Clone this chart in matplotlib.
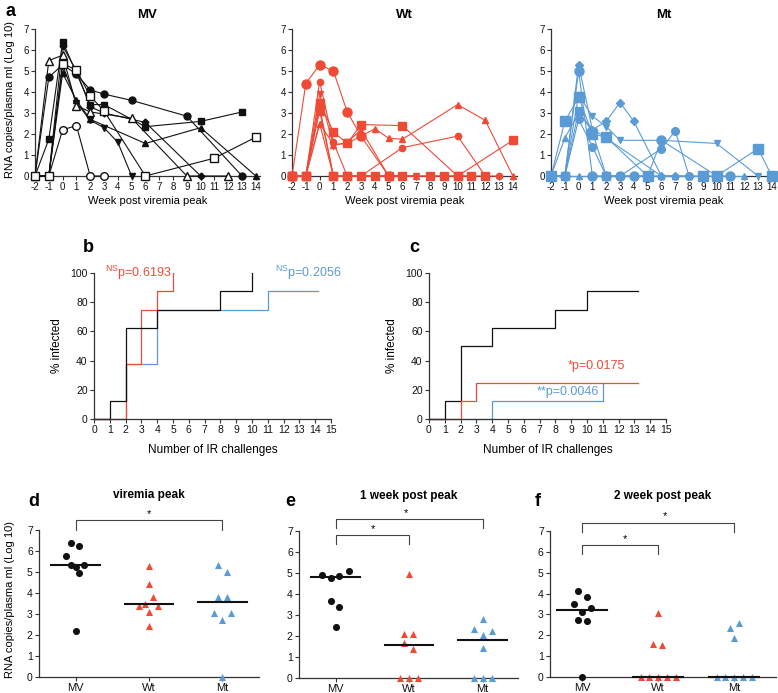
import matplotlib
matplotlib.use('Agg')
import matplotlib.pyplot as plt
import numpy as np

plt.rcParams['font.family'] = ['Liberation Sans', 'DejaVu Sans']
plt.rcParams['mathtext.fontset'] = 'custom'
plt.rcParams['mathtext.rm'] = 'Liberation Sans'
plt.rcParams['axes.unicode_minus'] = False

RED = '#EE4B36'
BLUE = '#5B9BD5'
BLACK = '#111111'
AXCOL = '#333333'

# ---- panel a: log10 viral load per animal, by week relative to peak
mv_weeks = [
    [-2, -1, 0, 1, 2, 3, 5, 9, 13],
    [-2, -1, 0, 1, 2, 3, 6, 10, 13],
    [-2, -1, 0, 1, 2, 6, 10, 14],
    [-2, -1, 0, 1, 2, 3, 4, 5],
    [-2, -1, 0, 1, 2, 3, 6, 10],
    [-2, -1, 0, 1, 2, 5, 9, 12],
    [-2, -1, 0, 1, 2, 3],
    [-2, -1, 0, 1, 2, 3, 6, 11, 14],
]
mv_loads = [
    [0, 4.7, 5.3, 4.85, 4.1, 3.9, 3.6, 2.85, 0],
    [0, 1.75, 6.4, 4.9, 3.4, 3.4, 2.35, 2.6, 3.05],
    [0, 0, 4.9, 3.6, 2.7, 1.55, 2.3, 0],
    [0, 0, 5.3, 3.5, 2.65, 2.3, 1.6, 0],
    [0, 0, 6.2, 5.0, 3.3, 3.0, 2.55, 0],
    [0, 5.5, 5.75, 3.35, 3.05, 2.75, 0, 0],
    [0, 0, 2.2, 2.4, 0, 0],
    [0, 0, 5.35, 5.05, 3.8, 3.1, 0, 0.85, 1.85],
]
wt_weeks = [
    [-2, -1, 0, 1, 2, 3, 5],
    [-2, -1, 0, 1, 2, 3, 6, 10, 12, 13],
    [-2, -1, 0, 1, 2, 3, 4, 5, 6, 10, 12, 14],
    [-2, -1, 0, 1, 2, 3, 5, 7],
    [-2, -1, 0, 1, 2, 3, 6, 10, 11],
    [-2, -1, 0, 1, 2, 3, 4, 5, 6, 8, 9, 10, 14],
    [-2, -1, 0, 1, 2, 12],
    [-2, -1, 0, 1, 7],
]
wt_loads = [
    [0, 4.4, 5.3, 5.0, 3.05, 1.9, 0],
    [0, 0, 4.5, 1.6, 0, 0, 1.35, 1.9, 0, 0],
    [0, 0, 2.5, 1.5, 1.55, 1.9, 2.25, 1.8, 1.75, 3.4, 2.65, 0],
    [0, 0, 3.9, 1.45, 1.6, 2.2, 0, 0],
    [0, 0, 3.5, 2.1, 1.55, 2.45, 2.4, 0, 0],
    [0, 0, 3.3, 0, 0, 0, 0, 0, 0, 0, 0, 0, 1.7],
    [0, 0, 3.1, 0, 0, 0],
    [0, 0, 2.5, 0, 0],
]
mt_weeks = [
    [-2, -1, 0, 1, 2, 3, 4, 6, 7],
    [-2, -1, 0, 1, 2, 3, 4, 5, 6, 10, 11],
    [-2, -1, 0, 1, 2, 5, 9, 10, 13, 14],
    [-2, -1, 0, 1, 2, 3, 6, 10, 13],
    [-2, -1, 0, 1, 2, 3, 6, 7, 8],
    [-2, -1, 0, 1, 6, 7, 8],
    [-2, -1, 0, 1, 2, 5],
    [-2, -1, 0, 1, 2, 3, 4, 5, 6, 7, 8, 12],
]
mt_loads = [
    [0, 0, 5.3, 2.2, 2.6, 3.5, 2.6, 0, 0],
    [0, 0, 5.0, 0, 0, 0, 0, 0, 1.7, 0, 0],
    [0, 2.6, 3.75, 2.0, 1.85, 0, 0, 0, 1.3, 0],
    [0, 0, 3.85, 2.85, 2.35, 1.7, 1.7, 1.55, 0],
    [0, 0, 2.7, 1.4, 0, 0, 1.3, 2.15, 0],
    [0, 1.8, 3.0, 2.25, 0, 0, 0],
    [0, 0, 3.1, 2.1, 0, 0],
    [0, 0, 0, 0, 0, 0, 0, 0, 0, 0, 0, 0],
]

# ---- panels b, c: cumulative % infected vs number of challenges
b_mv_x, b_mv_y = [0, 1, 2, 4, 8, 10], [0, 12.5, 62.5, 75, 87.5, 100]
b_wt_x, b_wt_y = [0, 2, 3, 4, 5], [0, 37.5, 75, 87.5, 100]
b_mt_x, b_mt_y = [0, 2, 4, 11, 14.2], [0, 37.5, 75, 87.5, 87.5]
c_mv_x, c_mv_y = [0, 1, 2, 4, 8, 10, 13.2], [0, 12.5, 50, 62.5, 75, 87.5, 87.5]
c_wt_x, c_wt_y = [0, 2, 3, 13.2], [0, 12.5, 25, 25]
c_mt_x, c_mt_y = [0, 4, 11], [0, 12.5, 25]

# ---- panels d, e, f: individual loads, median bars
groups = ['MV', 'Wt', 'Mt']
d_mv = [6.4, 6.25, 5.75, 5.35, 5.25, 5.35, 4.95, 2.2]
d_wt = [5.3, 4.45, 3.8, 3.5, 3.4, 3.4, 3.1, 2.45]
d_mt = [5.35, 5.0, 3.8, 3.8, 3.05, 3.05, 2.7, 0]
d_med = [5.33, 3.5, 3.57]
e_mv = [4.9, 4.78, 4.86, 5.1, 3.67, 3.4, 2.42]
e_wt = [4.97, 2.1, 2.1, 1.67, 1.4, 0, 0, 0]
e_mt = [2.83, 2.34, 2.26, 2.03, 1.45, 0, 0, 0]
e_med = [4.8, 1.56, 1.81]
f_mv = [4.1, 3.83, 3.5, 3.33, 3.1, 2.72, 2.67, 0]
f_wt = [3.05, 1.6, 1.52, 0, 0, 0, 0, 0]
f_mt = [2.59, 2.33, 1.85, 0, 0, 0, 0, 0]
f_med = [3.23, 0, 0]

# horizontal spread of the dots (units of category spacing)
d_jit = [[-0.07, 0.05, -0.13, -0.07, 0, 0.12, 0.05, 0],
         [0, 0, 0.05, -0.06, -0.13, 0.12, 0, 0],
         [-0.06, 0.07, -0.06, 0.07, -0.12, 0.12, 0, 0]]
e_jit = [[-0.19, -0.07, 0.05, 0.18, -0.07, 0.05, 0],
         [0, -0.07, 0.05, -0.07, 0.05, -0.13, 0, 0.12],
         [0, -0.12, 0.12, 0, 0, -0.12, 0, 0.12]]
f_jit = [[-0.05, 0.06, -0.11, 0.12, 0, -0.05, 0.06, 0],
         [0, -0.07, 0.05, -0.23, -0.12, 0, 0.12, 0.23],
         [0.06, -0.06, 0, -0.23, -0.12, 0, 0.12, 0.23]]

W, H = 778, 693


def rect(l, t, r, b):
    return [l / W, 1 - b / H, (r - l) / W, (b - t) / H]


def style(ax, lab=7):
    for s in ['top', 'right']:
        ax.spines[s].set_visible(False)
    for s in ['left', 'bottom']:
        ax.spines[s].set_color(AXCOL)
        ax.spines[s].set_linewidth(0.9)
    ax.tick_params(direction='out', length=3, width=0.8, colors=AXCOL,
                   labelcolor=BLACK, labelsize=lab, pad=1.5)


fig = plt.figure(figsize=(W / 100, H / 100), dpi=100)

# ================= panel a
a_sets = [
    ('MV', mv_weeks, mv_loads, BLACK, ['o', 's', '^', 'v', 'D', '^', 'o', 's'],
     [True, True, True, True, True, False, False, False], [5, 5, 4.5, 4.5, 3.5, 5.5, 5.5, 6], 35),
    ('Wt', wt_weeks, wt_loads, RED, ['o', 'o', '^', 'v', 's', 's', 's', '^'],
     [True] * 8, [6.5, 4.5, 4.5, 4.5, 5.5, 5.5, 5.5, 4.5], 292),
    ('Mt', mt_weeks, mt_loads, BLUE, ['D', 'o', 's', 'v', 'o', '^', 's', '^'],
     [True] * 8, [4, 6.5, 6.5, 4.5, 5.5, 4.5, 6, 4.5], 551),
]
for name, wks, lds, col, mks, fills, sizes, left in a_sets:
    ax = fig.add_axes(rect(left, 29, left + 225, 176))
    for i in range(len(wks)):
        ax.plot(wks[i], lds[i], color=col, lw=0.8, marker=mks[i], ms=sizes[i],
                mfc=col if fills[i] else 'white', mec=col, mew=1.0, clip_on=False, zorder=3)
    ax.set_xlim(-2, 14.3)
    ax.set_ylim(0, 7)
    ax.set_xticks(range(-2, 15))
    ax.set_yticks(range(0, 8))
    style(ax, 7)
    ax.set_title(name, fontsize=9.5, fontweight='bold', pad=8)
    ax.set_xlabel('Week post viremia peak', fontsize=8, labelpad=3)

fig.text(5 / W, 1 - 12 / H, 'a', fontsize=13, fontweight='bold', va='center')
fig.text(10 / W, 1 - 100 / H, 'RNA copies/plasma ml (Log 10)', rotation=90,
         fontsize=8, va='center', ha='center')

# ================= panels b, c
bc_sets = [
    ('b', 94, 83, [(b_mt_x, b_mt_y, BLUE), (b_wt_x, b_wt_y, RED), (b_mv_x, b_mv_y, BLACK)],
     [(0.7, 100, r'$^{\mathrm{NS}}$p=0.6193', RED), (11.45, 100, r'$^{\mathrm{NS}}$p=0.2056', BLUE)]),
    ('c', 429, 409, [(c_mt_x, c_mt_y, BLUE), (c_mv_x, c_mv_y, BLACK), (c_wt_x, c_wt_y, RED)],
     [(8.8, 36, '*p=0.0175', RED), (6.85, 18.5, '**p=0.0046', BLUE)]),
]
for letter, left, lx, curves, notes in bc_sets:
    ax = fig.add_axes(rect(left, 273, left + 237, 419))
    for xs, ys, col in curves:
        ax.step(xs, ys, where='post', color=col, lw=0.9, clip_on=False)
    ax.set_xlim(0, 15)
    ax.set_ylim(0, 100)
    ax.set_xticks(range(0, 16))
    ax.set_yticks(range(0, 101, 20))
    style(ax, 7.5)
    ax.set_xlabel('Number of IR challenges', fontsize=8.5, labelpad=6)
    ax.set_ylabel('% infected', fontsize=8.5, labelpad=5)
    for x, y, txt, col in notes:
        ax.text(x, y, txt, color=col, fontsize=9, va='center', ha='left')
    fig.text(lx / W, 1 - 248 / H, letter, fontsize=13, fontweight='bold', va='center')

# ================= panels d, e, f
def_sets = [
    ('d', 28, 'viremia peak', (39, 259, 530, 677), (-0.5, 2.5), [d_mv, d_wt, d_mt], d_med, d_jit,
     [(0, 2, 7.48, 7.0, 1.0, 7.78)]),
    ('e', 285, '1 week post peak', (299, 518, 531, 678), (-0.5, 2.48), [e_mv, e_wt, e_mt], e_med, e_jit,
     [(0, 2, 7.57, 7.14, 0.95, 7.87), (0, 1, 6.8, 6.38, 0.5, 7.1)]),
    ('f', 535, '2 week post peak', (550, 776, 531, 677), (-0.42, 2.55), [f_mv, f_wt, f_mt], f_med, f_jit,
     [(0, 2, 7.4, 6.95, 1.09, 7.7), (0, 1, 6.33, 5.9, 0.57, 6.63)]),
]
for letter, lx, title, box, xl, vals, meds, jit, brackets in def_sets:
    l, r, t, b = box
    ax = fig.add_axes(rect(l, t, r, b))
    cols = [BLACK, RED, BLUE]
    mks = ['o', '^', '^']
    for g in range(3):
        xs = g + np.array(jit[g])
        ax.scatter(xs, vals[g], s=26, marker=mks[g], color=cols[g], linewidths=0,
                   clip_on=False, zorder=3)
        ax.plot([g - 0.33, g + 0.33], [meds[g], meds[g]], color=BLACK, lw=1.5,
                zorder=4, clip_on=False)
    for x0, x1, ytop, ybot, sx, sy in brackets:
        ax.plot([x0, x0, x1, x1], [ybot, ytop, ytop, ybot], color='#444444', lw=0.8,
                clip_on=False)
        ax.text(sx, sy, '*', ha='center', va='center', fontsize=8, clip_on=False)
    ax.set_xlim(*xl)
    ax.set_ylim(0, 7)
    ax.set_yticks(range(0, 8))
    ax.set_xticks(range(3))
    ax.set_xticklabels(groups)
    style(ax, 7.5)
    ax.tick_params(axis='x', labelsize=8, pad=1)
    ax.set_title(title, fontsize=8.5, fontweight='bold', pad=23)
    fig.text(lx / W, 1 - 502 / H, letter, fontsize=13, fontweight='bold', va='center')

fig.text(10 / W, 1 - 600 / H, 'RNA copies/plasma ml (Log 10)', rotation=90,
         fontsize=8, va='center', ha='center')

fig.savefig('out.png', dpi=100)
